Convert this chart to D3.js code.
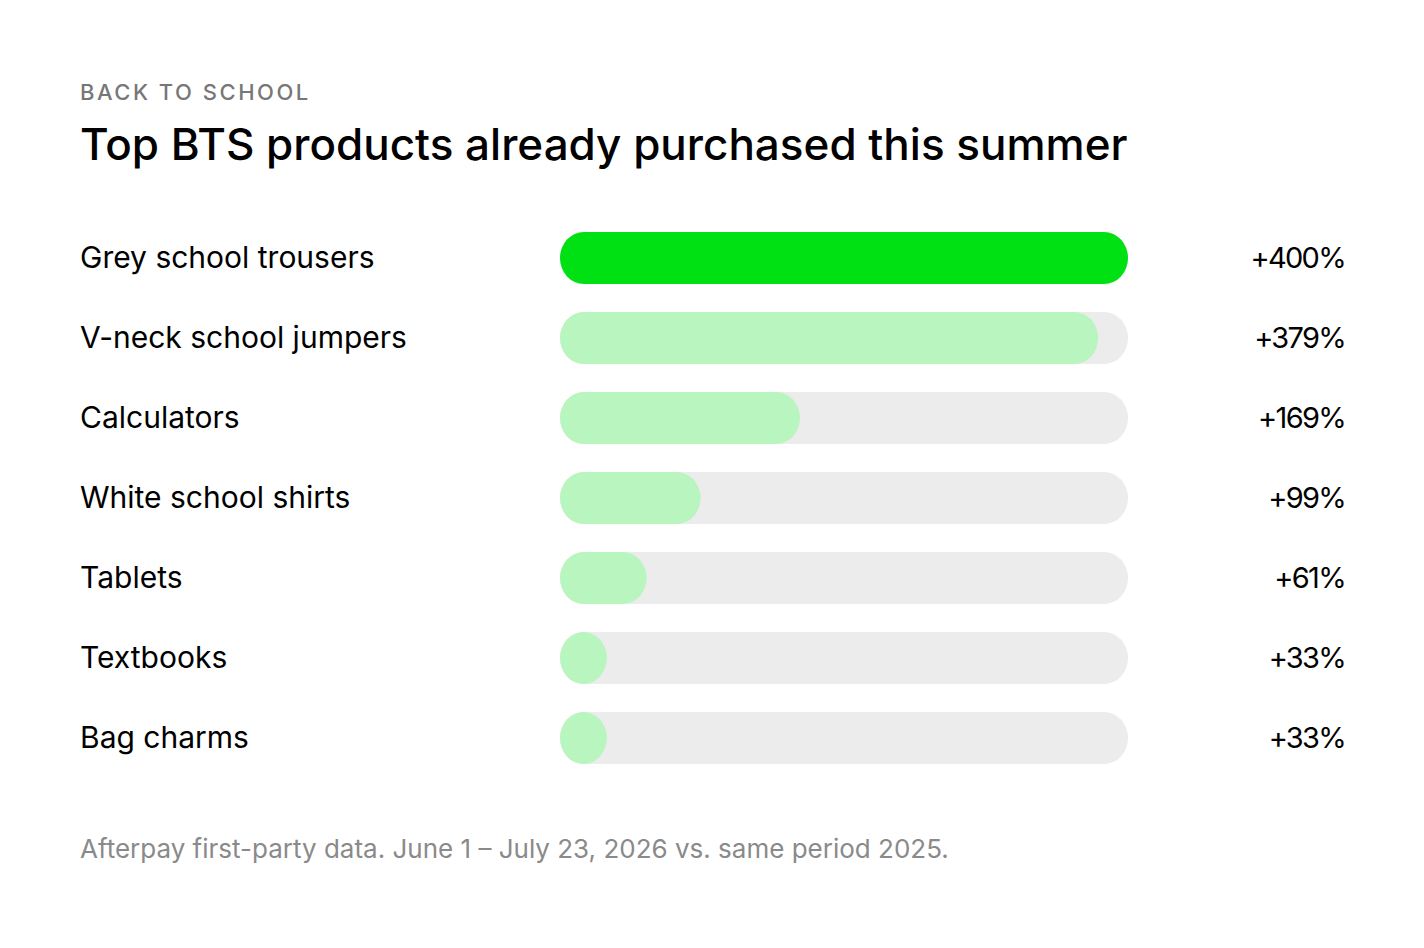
<!DOCTYPE html>
<html><head><meta charset="utf-8">
<script src="https://cdn.jsdelivr.net/npm/d3@7"></script>
<style>body{margin:0;background:#fff;} svg{display:block;}</style>
</head><body>
<script>
const categories = ["Grey school trousers","V-neck school jumpers","Calculators","White school shirts","Tablets","Textbooks","Bag charms"];
const values = [400,379,169,99,61,33,33];
const valueLabels = ["+400%","+379%","+169%","+99%","+61%","+33%","+33%"];
const kicker = "BACK TO SCHOOL";
const title = "Top BTS products already purchased this summer";
const footnote = "Afterpay first-party data. June 1 – July 23, 2026 vs. same period 2025.";

const W = 1424, H = 948;
const font = "Inter, 'Noto Sans', sans-serif";
const svg = d3.select("body").append("svg").attr("width", W).attr("height", H);

const x = d3.scaleLinear().domain([0, 400]).range([560, 1128]);
const y = d3.scaleBand().domain(categories).range([218, 778]).paddingInner(0.35).paddingOuter(0.175);

svg.append("text").attr("x", 80).attr("y", 100).text(kicker)
  .attr("font-family", font).attr("font-size", 22).attr("font-weight", 500)
  .attr("letter-spacing", 2.5).attr("fill", "#777");
svg.append("text").attr("x", 80).attr("y", 160).text(title)
  .attr("font-family", font).attr("font-size", 44).attr("font-weight", 500)
  .attr("fill", "#000").attr("letter-spacing", 0);

const rows = svg.selectAll("g.row").data(categories).join("g").attr("class", "row");
rows.append("rect").attr("x", x(0)).attr("y", d => y(d)).attr("width", x(400) - x(0))
  .attr("height", y.bandwidth()).attr("rx", 24).attr("ry", y.bandwidth()/2).attr("fill", "#ececec");
rows.append("rect").attr("x", x(0)).attr("y", d => y(d))
  .attr("width", (d,i) => x(values[i]) - x(0))
  .attr("height", y.bandwidth()).attr("rx", 24).attr("ry", y.bandwidth()/2)
  .attr("fill", (d,i) => i === 0 ? "#00e114" : "#b9f5bf");
rows.append("text").attr("x", 80).attr("y", d => y(d) + y.bandwidth()/2 + 10).text(d => d)
  .attr("font-family", font).attr("font-size", 30).attr("fill", "#000");
rows.append("text").attr("x", 1345).attr("y", d => y(d) + y.bandwidth()/2 + 10)
  .attr("text-anchor", "end").text((d,i) => valueLabels[i])
  .attr("font-family", font).attr("font-size", 29).attr("fill", "#000").attr("letter-spacing", -1.7);

svg.append("text").attr("x", 80).attr("y", 858).text(footnote)
  .attr("font-family", font).attr("font-size", 26).attr("fill", "#8a8a8a").attr("letter-spacing", 0);
</script>
</body></html>
